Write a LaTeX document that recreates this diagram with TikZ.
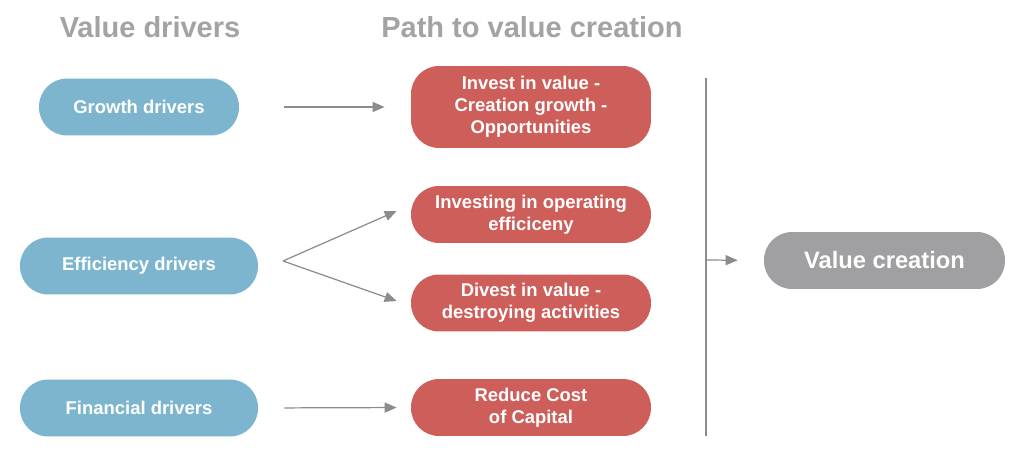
\documentclass[tikz,border=0pt]{standalone}
\usepackage{fontspec}
\setmainfont{Liberation Sans}
\usetikzlibrary{arrows.meta,calc}
\definecolor{driverblue}{HTML}{7DB5CF}
\definecolor{pathred}{HTML}{CD5E5A}
\definecolor{resultgray}{HTML}{A0A0A3}
\definecolor{headgray}{HTML}{A3A3A5}
\definecolor{linegray}{HTML}{8C8C8C}

\begin{document}
\begin{tikzpicture}[x=0.02cm,y=-0.02cm]
		\tikzstyle{every node}+=[inner sep=0pt]
		\tikzstyle{head}=[text=headgray, font=\bfseries\fontsize{16.5}{18}\selectfont]
		\tikzstyle{driver}=[fill=driverblue, text=white, rounded corners=0.56cm, minimum height=1.14cm, align=center, font=\bfseries\fontsize{10.5}{12.6}\selectfont]
		\tikzstyle{pathbox}=[driver, fill=pathred, minimum width=4.8cm]
		\tikzstyle{result}=[driver, fill=resultgray, minimum width=4.82cm, font=\bfseries\fontsize{13.5}{15}\selectfont]
		\tikzstyle{flow}=[draw=linegray, line width=0.7pt, -{Triangle[length=0.24cm,width=0.2cm]}]
		\useasboundingbox (0,0) rectangle (1024,473);
		% headers
		\node [head] (hdrivers) at (150,27) {Value drivers};
		\node [head] (hpath) at (532,27) {Path to value creation};
		% value drivers
		\node [driver, minimum width=4cm] (growth) at (139,107) {Growth drivers};
		\node [driver, minimum width=4.76cm] (efficiency) at (139,266) {Efficiency drivers};
		\node [driver, minimum width=4.76cm] (financial) at (139,408) {Financial drivers};
		% paths
		\node [pathbox, minimum height=1.64cm] (invest) at (531,107) {Invest in value -\\Creation growth -\\Opportunities};
		\node [pathbox] (operating) at (531,214.5) {Investing in operating\\efficiceny};
		\node [pathbox] (divest) at (531,303) {Divest in value -\\destroying activities};
		\node [pathbox] (capital) at (531,407.5) {Reduce Cost\\of Capital};
		\node [result] (creation) at (884.5,260.5) {Value creation};
		% connectors
		\coordinate (fork) at (283,261);
		\coordinate (bustop) at (706,78);
		\coordinate (busmid) at (706,260);
		\coordinate (busbot) at (706,436);
		\draw [flow, shorten <=0.9cm, shorten >=0.52cm] (growth.east) -- (invest.west);
		\draw [flow] (fork) -- ($(operating.west)+(-14,-3.5)$);
		\draw [flow] (fork) -- ($(divest.west)+(-14,-2)$);
		\draw [flow, shorten <=0.52cm, shorten >=0.28cm] (financial.east) -- (capital.west);
		\draw [draw=linegray, line width=0.7pt] (bustop) -- (busbot);
		\draw [flow, shorten >=0.52cm] (busmid) -- (creation.west);
\end{tikzpicture}
\end{document}
